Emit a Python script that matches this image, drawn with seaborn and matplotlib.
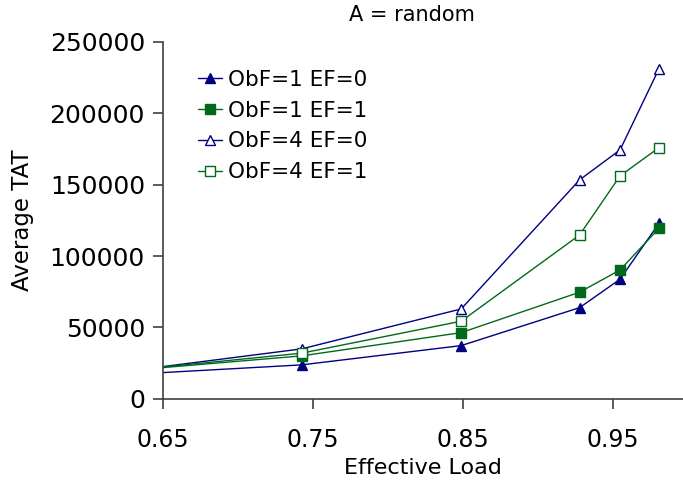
import matplotlib
matplotlib.use("Agg")
import matplotlib.pyplot as plt
import seaborn as sns
import pandas as pd

sns.set_theme(style="white")
plt.rcParams['font.family'] = ['DejaVu Sans']
plt.rcParams['text.color'] = 'black'
plt.rcParams['axes.labelcolor'] = 'black'

load = [0.65, 0.7425, 0.849, 0.928, 0.955, 0.981]
obf1_ef0 = [18400, 23800, 37300, 63900, 83800, 123000]
obf1_ef1 = [21900, 30100, 46400, 74700, 90300, 119500]
obf4_ef0 = [22600, 35000, 63000, 153400, 174400, 231300]
obf4_ef1 = [22300, 32000, 54400, 114800, 156200, 176000]
names = ["ObF=1 EF=0", "ObF=1 EF=1", "ObF=4 EF=0", "ObF=4 EF=1"]
xticks = [0.65, 0.75, 0.85, 0.95]
yticks = [0, 50000, 100000, 150000, 200000, 250000]

navy = "#000080"
green = "#006a1a"
styles = [
    dict(color=navy, marker="^", mfc=navy, mec=navy, ms=7.5),
    dict(color=green, marker="s", mfc=green, mec=green, ms=7),
    dict(color=navy, marker="^", mfc="white", mec=navy, ms=7.5),
    dict(color=green, marker="s", mfc="white", mec=green, ms=7),
]

fig = plt.figure(figsize=(6.83, 4.87), dpi=100)
ax = fig.add_axes([0.2387, 0.181, 0.7613, 0.7328])

for name, vals, st in zip(names, [obf1_ef0, obf1_ef1, obf4_ef0, obf4_ef1], styles):
    df = pd.DataFrame({"x": load, "y": vals})
    sns.lineplot(data=df, x="x", y="y", ax=ax, label=name, lw=1.0,
                 color=st["color"], marker=st["marker"], markerfacecolor=st["mfc"],
                 markeredgecolor=st["mec"], markersize=st["ms"], markeredgewidth=1.0,
                 markevery=slice(1, None))

ax.set_xlim(0.65, 0.997)
ax.set_ylim(0, 250000)
ax.set_xticks(xticks)
ax.set_xticklabels(["0.65", "0.75", "0.85", "0.95"])
ax.set_yticks(yticks)
ax.set_yticklabels([str(v) for v in yticks])
ax.tick_params(axis="both", labelsize=17, length=7, width=1.2, colors="#404040",
               labelcolor="black", direction="out", bottom=True, left=True)
ax.tick_params(axis="y", labelsize=18, pad=6)
ax.tick_params(axis="x", pad=14)
for s in ["top", "right"]:
    ax.spines[s].set_visible(False)
for s in ["left", "bottom"]:
    ax.spines[s].set_color("#404040")
    ax.spines[s].set_linewidth(1.2)

ax.set_xlabel("Effective Load", fontsize=16, labelpad=4)
ax.set_ylabel("Average TAT", fontsize=16.5, labelpad=11)
fig.text(412 / 683, 1 - 15 / 487, "A = random", fontsize=15, ha="center", va="center")

leg = ax.legend(loc="upper left", bbox_to_anchor=(0.0673, 0.9216), frameon=False,
                fontsize=15.5, handlelength=1.1, handletextpad=0.3, labelspacing=0.5,
                borderaxespad=0, borderpad=0)

fig.savefig("out.png", dpi=100)
